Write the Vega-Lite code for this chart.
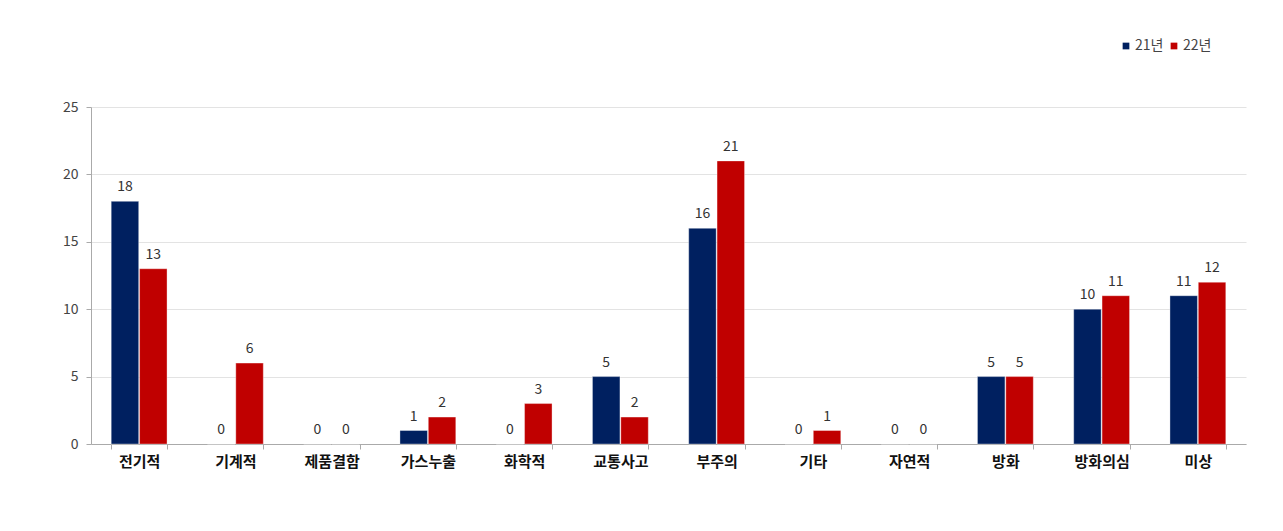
{
  "$schema": "https://vega.github.io/schema/vega-lite/v6.json",
  "width": 1155,
  "height": 337,
  "autosize": {"type": "none"},
  "padding": {"left": 91, "top": 107, "right": 37, "bottom": 87},
  "background": "white",
  "config": {
    "view": {"stroke": null},
    "font": "Noto Sans CJK KR"
  },
  "data": {
    "values": [
      {"cat": "전기적", "year": "21년", "v": 18},
      {"cat": "전기적", "year": "22년", "v": 13},
      {"cat": "기계적", "year": "21년", "v": 0},
      {"cat": "기계적", "year": "22년", "v": 6},
      {"cat": "제품결함", "year": "21년", "v": 0},
      {"cat": "제품결함", "year": "22년", "v": 0},
      {"cat": "가스누출", "year": "21년", "v": 1},
      {"cat": "가스누출", "year": "22년", "v": 2},
      {"cat": "화학적", "year": "21년", "v": 0},
      {"cat": "화학적", "year": "22년", "v": 3},
      {"cat": "교통사고", "year": "21년", "v": 5},
      {"cat": "교통사고", "year": "22년", "v": 2},
      {"cat": "부주의", "year": "21년", "v": 16},
      {"cat": "부주의", "year": "22년", "v": 21},
      {"cat": "기타", "year": "21년", "v": 0},
      {"cat": "기타", "year": "22년", "v": 1},
      {"cat": "자연적", "year": "21년", "v": 0},
      {"cat": "자연적", "year": "22년", "v": 0},
      {"cat": "방화", "year": "21년", "v": 5},
      {"cat": "방화", "year": "22년", "v": 5},
      {"cat": "방화의심", "year": "21년", "v": 10},
      {"cat": "방화의심", "year": "22년", "v": 11},
      {"cat": "미상", "year": "21년", "v": 11},
      {"cat": "미상", "year": "22년", "v": 12}
    ]
  },
  "encoding": {
    "x": {
      "field": "cat",
      "type": "nominal",
      "sort": null,
      "title": null,
      "scale": {"paddingInner": 0.42, "paddingOuter": 0.21},
      "axis": {
        "labelAngle": 0,
        "labelFontSize": 15,
        "labelFontWeight": "bold",
        "labelColor": "#111111",
        "labelPadding": 5,
        "tickBand": "extent",
        "tickColor": "#aaaaaa",
        "tickSize": 5,
        "domainColor": "#aaaaaa",
        "grid": false
      }
    },
    "xOffset": {"field": "year", "type": "nominal", "scale": {"paddingInner": 0.03}},
    "y": {
      "field": "v",
      "type": "quantitative",
      "title": null,
      "scale": {"domain": [0, 25]},
      "axis": {
        "values": [0, 5, 10, 15, 20, 25],
        "labelFontSize": 14,
        "labelColor": "#444444",
        "labelPadding": 8,
        "tickColor": "#aaaaaa",
        "tickSize": 5,
        "domainColor": "#aaaaaa",
        "gridColor": "#e3e3e3"
      }
    }
  },
  "layer": [
    {
      "mark": {"type": "bar", "strokeWidth": 1, "strokeOpacity": 0.35, "stroke": "#ffffff"},
      "encoding": {
        "color": {
          "field": "year",
          "type": "nominal",
          "title": null,
          "scale": {"domain": ["21년", "22년"], "range": ["#002060", "#c00000"]},
          "legend": {
            "orient": "none",
            "legendX": 1028,
            "legendY": -68,
            "direction": "horizontal",
            "symbolType": "square",
            "symbolSize": 45,
            "symbolStrokeWidth": 0,
            "labelFontSize": 14,
            "labelColor": "#444444",
            "labelOffset": 2,
            "columnPadding": 3,
            "symbolOffset": 0
          }
        }
      }
    },
    {
      "mark": {"type": "text", "baseline": "bottom", "dy": -7, "fontSize": 14, "fill": "#333333"},
      "encoding": {"text": {"field": "v", "type": "quantitative"}}
    }
  ]
}
